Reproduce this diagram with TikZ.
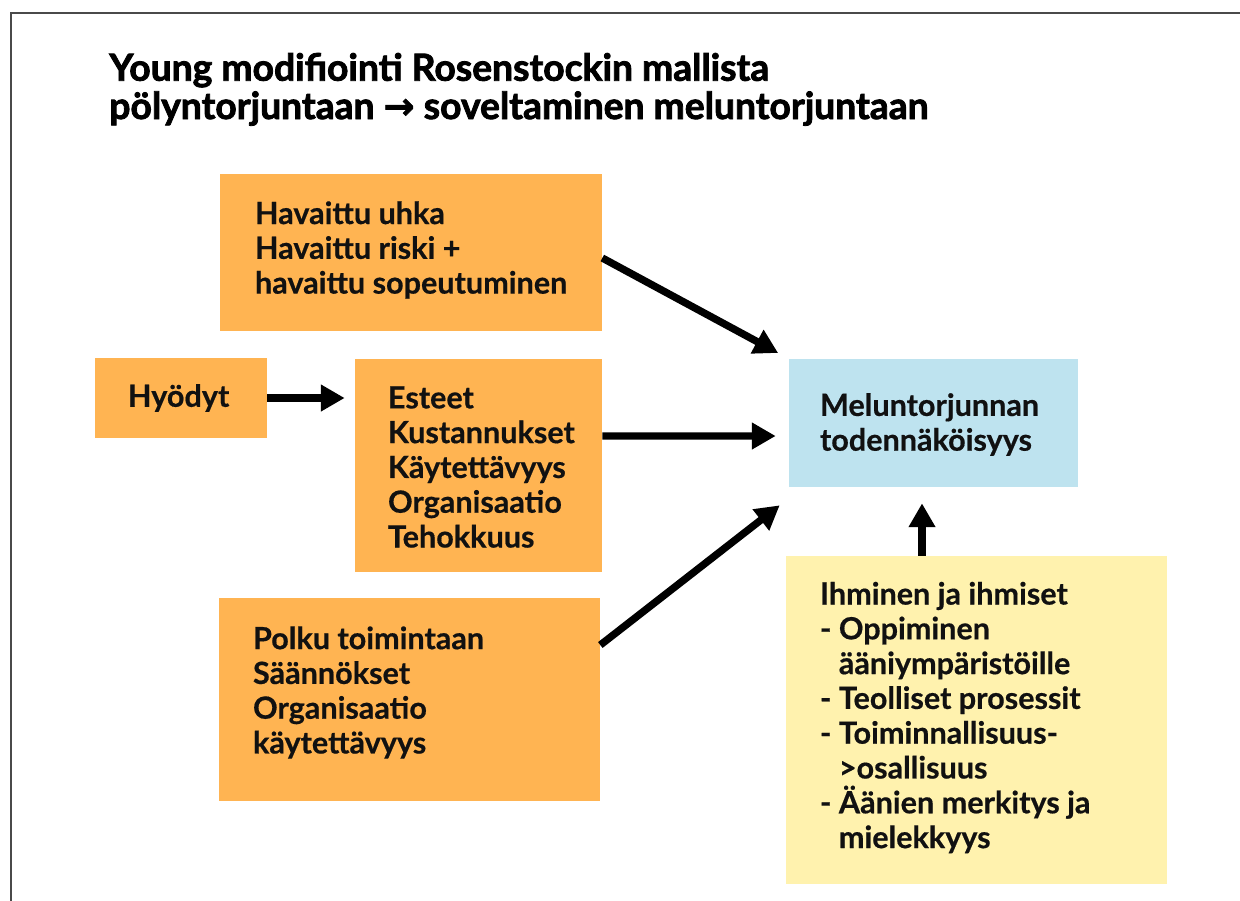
\documentclass[tikz,border=0pt]{standalone}
\usepackage{fontspec}
\setmainfont{Lato}[BoldFeatures={FakeBold=0.5}]
\newfontfamily\titlefont{Lato}[BoldFeatures={FakeBold=2.2}]
\newfontfamily\symfont{DejaVu Sans}[BoldFeatures={FakeBold=1.5}]
\usetikzlibrary{arrows.meta}
\definecolor{orangebox}{HTML}{FFB452}
\definecolor{bluebox}{HTML}{BEE3EF}
\definecolor{yellowbox}{HTML}{FFF2AE}
\definecolor{framegray}{HTML}{4A4A4A}
\definecolor{ink}{HTML}{111111}
\tikzset{
  box/.style={draw=none, inner sep=0pt},
  obox/.style={box, fill=orangebox},
  bbox/.style={box, fill=bluebox},
  ybox/.style={box, fill=yellowbox},
  txt/.style={anchor=west, align=left, inner sep=0pt, text=ink,
    font=\fontsize{17.4}{19.8}\selectfont\bfseries},
  arr/.style={draw=black, line width=4.2pt, -{Triangle[length=13.6pt,width=14.5pt]}},
}
\begin{document}
\begin{tikzpicture}[x=0.02cm, y=-0.02cm]
\useasboundingbox (0,0) rectangle (1240,900);
% frame
\draw[framegray, line width=1.2pt] (11,905) -- (11,13) -- (1245,13);
% title
\node[anchor=base west, align=left, inner sep=0pt, text=black,
  font=\titlefont\bfseries\fontsize{21.2}{21.8}\selectfont] (title) at (109,119)
  {Young modifiointi Rosenstockin mallista\\pölyntorjuntaan {\symfont\bfseries →} soveltaminen meluntorjuntaan};
% boxes
\node[obox, minimum width=7.64cm, minimum height=3.14cm] (A) at (411,252.5) {};
\node[obox, minimum width=3.44cm, minimum height=1.6cm] (H) at (181,398) {};
\node[obox, minimum width=4.94cm, minimum height=4.26cm] (B) at (478.5,465.5) {};
\node[obox, minimum width=7.62cm, minimum height=4.06cm] (C) at (409.5,699.5) {};
\node[bbox, minimum width=5.78cm, minimum height=2.56cm] (D) at (933.5,423) {};
\node[ybox, minimum width=7.62cm, minimum height=6.56cm] (E) at (976.5,720) {};
% texts
\node[txt] (At) at ([xshift=0.7cm, yshift=0.05cm]A.west)
  {Havaittu uhka\\Havaittu riski +\\havaittu sopeutuminen};
\node[txt] (Ht) at ([xshift=0.66cm]H.west) {Hyödyt};
\node[txt] (Bt) at ([xshift=0.66cm, yshift=-0.03cm]B.west)
  {Esteet\\Kustannukset\\Käytettävyys\\Organisaatio\\Tehokkuus};
\node[txt] (Ct) at ([xshift=0.68cm, yshift=0.14cm]C.west)
  {Polku toimintaan\\Säännökset\\Organisaatio\\käytettävyys};
\node[txt] (Dt) at ([xshift=0.62cm, yshift=-0.03cm]D.west)
  {Meluntorjunnan\\todennäköisyys};
\node[txt] (Et) at ([xshift=0.68cm, yshift=0.05cm]E.west)
  {Ihminen ja ihmiset\\- Oppiminen\\\phantom{- }ääniympäristöille\\- Teolliset prosessit\\- Toiminnallisuus-\\\phantom{- }>osallisuus\\- Äänien merkitys ja\\\phantom{- }mielekkyys};
% arrows
\draw[arr, shorten >=0.24cm] ([yshift=-0.11cm]A.east) -- (D.north west);
\draw[arr, shorten >=0.2cm] (H.east) -- (H.east -| B.west);
\draw[arr, shorten >=0.26cm] ([yshift=0.59cm]B.east) -- ([yshift=-0.26cm]D.west);
\draw[arr] ([yshift=1.09cm]C.east) -- ([xshift=-0.18cm, yshift=-0.36cm]D.south west);
\draw[arr, shorten >=0.32cm] ([xshift=-1.09cm]E.north) -- ([xshift=-1.09cm]E.north |- D.south);
\end{tikzpicture}
\end{document}
